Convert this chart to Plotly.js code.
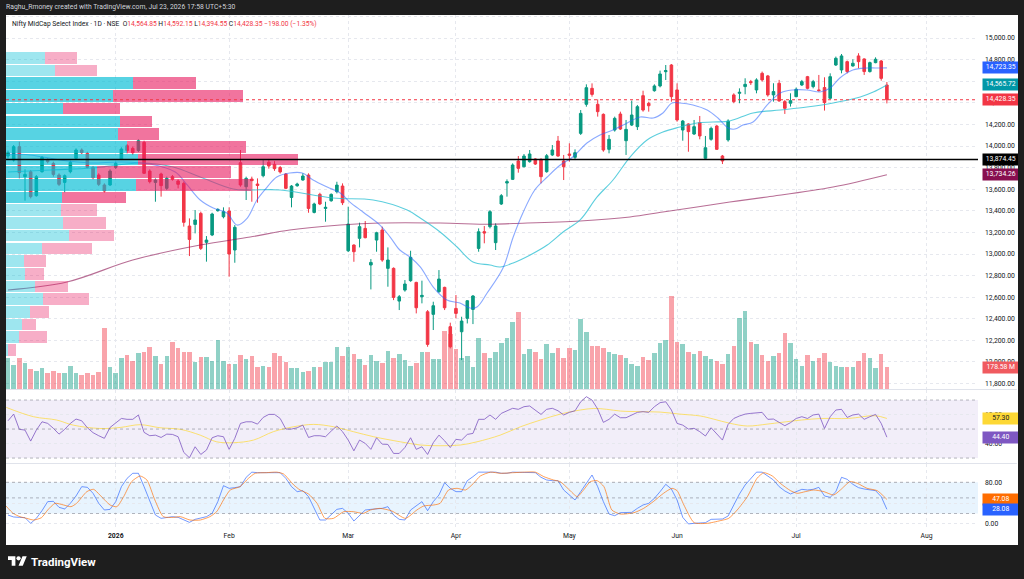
<!DOCTYPE html>
<html>
<head>
<meta charset="utf-8">
<script src="https://cdn.plot.ly/plotly-3.0.1.min.js"></script>
<style>
  html, body { margin: 0; padding: 0; }
  body { width: 1024px; height: 579px; background: #1e1e1e; position: relative; overflow: hidden; font-family: Roboto, "Liberation Sans", sans-serif; }
  #credit { position: absolute; left: 6px; top: 2px; font-size: 6.8px; color: #d1d4dc; line-height: 10px; }
  #chart { position: absolute; left: 6px; top: 15px; width: 1012px; height: 530px; background: #fff; }
  #brand { position: absolute; left: 8px; top: 554px; height: 15px; display: flex; align-items: center; color: #fff; font-weight: 700; font-size: 11.5px; }
  #brand svg { margin-right: 4px; }
</style>
</head>
<body>
<div id="credit">Raghu_Rmoney created with TradingView.com, Jul 23, 2026 17:58 UTC+5:30</div>
<div id="chart"></div>
<div id="brand">
  <svg width="19" height="15" viewBox="0 0 36 28"><path d="M14 22H7V11H0V4h14v18zM28 22h-8l7.5-18h8L28 22z" fill="#fff"/><circle cx="20" cy="8" r="4" fill="#fff"/></svg>
  <span>TradingView</span>
</div>
<script>
// daily candles, Dec 2025 - Jul 23 2026 (bar 1 = first bar on screen)
var opens = [13907, 13870, 13994, 13716, 13762, 13540, 13762, 13870, 13839, 13731,
  13663, 13762, 13886, 13963, 13932, 13802, 13731, 13639, 13639, 13802,
  13876, 14003, 13978, 13957, 14034, 13768, 13663, 13741, 13608, 13716,
  13676, 13654, 13259, 13274, 13376, 13108, 13176, 13401, 13345, 13398,
  13037, 13845, 13623, 13694, 13648, 13725, 13850, 13830, 13800, 13740,
  13524, 13632, 13685, 13731, 13385, 13552, 13422, 13493, 13577, 13629,
  13030, 13083, 13145, 13237, 12898, 13129, 13222, 12867, 12867, 12564,
  12666, 12753, 12737, 12604, 12465, 12441, 12651, 12691, 12327, 12496,
  12280, 12404, 12487, 13052, 13207, 13253, 13105, 13463, 13657, 13691,
  13861, 13808, 13855, 13880, 13876, 13762, 13917, 14046, 13861, 13926,
  13895, 14117, 14386, 14534, 14386, 14293, 13969, 14148, 14296, 14049,
  14194, 14179, 14466, 14395, 14512, 14556, 14688, 14750, 14519, 14148,
  14204, 14111, 14216, 13886, 14062, 14185, 13907, 14056, 14473, 14488,
  14550, 14596, 14519, 14673, 14649, 14473, 14581, 14411, 14396, 14457,
  14565, 14642, 14550, 14519, 14541, 14442, 14750, 14704, 14781, 14741,
  14834, 14806, 14689, 14772, 14787, 14564.85];
var highs = [13957, 14009, 14040, 13784, 13778, 13731, 13907, 13886, 13855, 13747,
  13737, 13864, 13978, 13978, 13947, 13815, 13747, 13654, 13784, 13855,
  13988, 14018, 13994, 14062, 14049, 13784, 13700, 13753, 13716, 13731,
  13691, 13670, 13330, 13407, 13392, 13166, 13382, 13423, 13432, 13432,
  13268, 13963, 13716, 13716, 13700, 13870, 13880, 13860, 13815, 13750,
  13638, 13660, 13747, 13747, 13475, 13567, 13484, 13561, 13669, 13654,
  13438, 13089, 13290, 13305, 12953, 13206, 13253, 13061, 12876, 12620,
  12759, 13030, 12743, 12753, 12481, 12558, 12851, 12697, 12364, 12620,
  12419, 12573, 12620, 13237, 13259, 13407, 13284, 13555, 13691, 13839,
  13907, 13926, 13963, 13886, 13886, 13926, 14009, 14093, 13917, 14025,
  13969, 14333, 14571, 14580, 14432, 14302, 14102, 14272, 14318, 14241,
  14420, 14380, 14512, 14410, 14571, 14698, 14750, 14759, 14580, 14241,
  14210, 14241, 14278, 14093, 14179, 14194, 13917, 14247, 14488, 14534,
  14627, 14612, 14627, 14689, 14658, 14581, 14612, 14426, 14488, 14541,
  14612, 14649, 14612, 14658, 14636, 14673, 14828, 14852, 14791, 14803,
  14859, 14812, 14781, 14821, 14797, 14592.15];
var lows = [13883, 13855, 13700, 13494, 13515, 13531, 13753, 13839, 13716, 13629,
  13571, 13747, 13870, 13926, 13793, 13691, 13629, 13568, 13629, 13787,
  13870, 13932, 13916, 13944, 13741, 13654, 13484, 13531, 13592, 13679,
  13608, 13253, 12981, 13191, 13037, 12929, 13166, 13392, 13330, 12790,
  12919, 13623, 13500, 13484, 13475, 13710, 13790, 13770, 13745, 13600,
  13432, 13623, 13679, 13382, 13376, 13453, 13299, 13484, 13561, 13453,
  13018, 12928, 13061, 13145, 12672, 13021, 12928, 12697, 12573, 12481,
  12651, 12743, 12450, 12543, 12141, 12296, 12641, 12481, 12126, 12404,
  12018, 12357, 12351, 13021, 13099, 13237, 13037, 13454, 13531, 13685,
  13753, 13802, 13846, 13824, 13654, 13753, 13907, 13901, 13685, 13855,
  13870, 14102, 14364, 14457, 14272, 13947, 13932, 14133, 14148, 13917,
  14185, 14148, 14318, 14318, 14503, 14543, 14611, 14410, 14225, 14049,
  13947, 14102, 14062, 13876, 14049, 13963, 13833, 14040, 14396, 14396,
  14479, 14565, 14488, 14596, 14457, 14411, 14411, 14297, 14365, 14451,
  14556, 14525, 14534, 14504, 14328, 14433, 14741, 14673, 14673, 14735,
  14720, 14658, 14680, 14766, 14605, 14394.55];
var closes = [13938, 13994, 13753, 13737, 13531, 13716, 13895, 13855, 13737, 13645,
  13725, 13849, 13963, 13938, 13802, 13707, 13645, 13583, 13768, 13839,
  13972, 13957, 13938, 14049, 13747, 13670, 13685, 13633, 13700, 13691,
  13645, 13293, 13135, 13315, 13052, 13129, 13370, 13413, 13392, 13000,
  13247, 13639, 13700, 13679, 13635, 13808, 13815, 13790, 13760, 13608,
  13629, 13648, 13722, 13422, 13463, 13463, 13432, 13552, 13638, 13475,
  13277, 13021, 13253, 13151, 12922, 13197, 12944, 12944, 12598, 12604,
  12722, 12969, 12502, 12617, 12163, 12521, 12768, 12502, 12141, 12450,
  12379, 12567, 12611, 13206, 13194, 13392, 13259, 13540, 13670, 13824,
  13793, 13907, 13926, 13833, 13716, 13910, 13963, 13907, 13808, 13914,
  13938, 14302, 14540, 14478, 14318, 13963, 14062, 14256, 14157, 14154,
  14287, 14364, 14333, 14373, 14556, 14667, 14698, 14457, 14241, 14231,
  14133, 14179, 14093, 13984, 14163, 13969, 13861, 14231, 14411, 14497,
  14571, 14587, 14612, 14612, 14473, 14504, 14417, 14349, 14420, 14525,
  14596, 14534, 14596, 14513, 14402, 14642, 14812, 14834, 14689, 14766,
  14781, 14689, 14772, 14803, 14626.35, 14428.35];

// volume, millions
var volumes = [252, 197, 252, 211, 165, 151, 170, 134, 148, 129,
  129, 189, 132, 115, 132, 115, 140, 505, 181, 134,
  255, 277, 230, 294, 304, 346, 272, 206, 274, 390,
  335, 307, 304, 222, 266, 263, 233, 403, 230, 203,
  203, 280, 247, 274, 178, 189, 184, 296, 274, 222,
  173, 173, 143, 151, 181, 178, 222, 222, 346, 272,
  343, 285, 244, 200, 280, 233, 217, 313, 258, 291,
  239, 192, 217, 307, 302, 244, 247, 477, 450, 329,
  252, 272, 178, 422, 294, 252, 304, 376, 417, 554,
  634, 288, 326, 304, 247, 368, 294, 340, 255, 335,
  321, 573, 466, 354, 357, 335, 304, 288, 280, 255,
  206, 192, 266, 239, 299, 381, 403, 768, 384, 368,
  304, 285, 310, 274, 247, 230, 206, 285, 354, 582,
  639, 390, 368, 277, 233, 274, 294, 458, 379, 244,
  189, 277, 230, 255, 299, 219, 189, 178, 181, 181,
  233, 299, 252, 173, 285, 178.58];

// moving averages (bar position, price)
var ema20At = [1, 4.9, 10.2, 15.5, 20.8, 26.0, 30.5, 32.6, 34.9, 37.2, 39.6, 41.4, 43.2, 44.9, 46.7,
  48.4, 50.7, 52.9, 54.8, 57.3, 59.6, 61.3, 63.6, 66.6, 68.4, 70.1, 71.9, 73.7, 76.0, 78.4,
  80.7, 82.5, 83.7, 85.5, 88.3, 90.1, 91.8, 93.9, 96.1, 98.4, 100.6, 103.1, 105.4, 107.7, 110.2,
  112.5, 114.8, 116.5, 118.1, 119.5, 121.8, 124.3, 126.2, 128.0, 129.2, 130.6, 132.4, 134.9, 137.2,
  139.4, 141.9, 144.2, 146.0, 147.7, 150.0, 152.5, 154.8, 156];
var ema20 = [13926, 13917, 13870, 13843, 13852, 13833, 13759, 13639, 13500, 13426, 13380, 13268, 13333, 13500, 13620,
  13713, 13750, 13750, 13685, 13620, 13565, 13481, 13389, 13268, 13157, 13037, 12972, 12880, 12694, 12574,
  12546, 12500, 12509, 12639, 12870, 13157, 13380, 13593, 13713, 13824, 13898, 14028, 14102, 14148, 14213,
  14269, 14259, 14306, 14398, 14398, 14380, 14333, 14259, 14167, 14157, 14194, 14222, 14380, 14491,
  14519, 14519, 14500, 14537, 14630, 14704, 14722, 14722, 14723.35];
var ema50At = [1, 8.4, 16.0, 24.3, 30.1, 34.9, 40.7, 43.7, 49.0, 58.3, 65.4, 71.4, 73.7, 77.2, 80.2,
  83.0, 86.0, 87.8, 90.1, 93.1, 96.1, 98.9, 101.9, 104.9, 107.7, 110.7, 113.7, 116.5, 119.5, 122.5,
  125.3, 128.3, 132.4, 137.2, 141.9, 146.5, 151.3, 153.6, 156];
var ema50 = [13759, 13778, 13796, 13843, 13806, 13713, 13602, 13593, 13593, 13518, 13500, 13407, 13333, 13204, 13065,
  12926, 12898, 12880, 12917, 12991, 13083, 13204, 13315, 13528, 13685, 13898, 14056, 14130, 14176, 14213,
  14222, 14232, 14306, 14333, 14361, 14398, 14454, 14500, 14565.72];
var sma200At = [1, 11.4, 23.0, 34.9, 43.7, 50.7, 59.6, 66.6, 77.2, 86.0, 90.1, 101.9, 110.7, 116.5, 122.5, 128.3, 134.9, 146.5, 156];
var sma200 = [12667, 12741, 12944, 13083, 13157, 13222, 13268, 13287, 13287, 13275, 13282, 13306, 13343, 13389, 13435, 13481, 13528, 13620, 13734.26];

// RSI (per bar) and its moving average
var rsi = [55.7, 60.3, 49.8, 49.3, 41.7, 49.3, 55.0, 53.9, 50.5, 46.5,
  49.8, 53.9, 56.9, 55.7, 50.9, 47.5, 45.4, 43.6, 51.1, 53.9,
  57.3, 56.7, 56.7, 59.7, 47.7, 45.4, 45.8, 44.2, 46.5, 46.3,
  44.7, 33.9, 30.2, 37.8, 32.5, 35.5, 44.0, 45.4, 44.7, 36.0,
  43.6, 53.9, 55.0, 55.0, 53.4, 58.0, 60.1, 60.1, 57.3, 50.0,
  50.0, 50.9, 52.7, 44.2, 45.4, 45.4, 44.7, 48.6, 52.1, 48.2,
  42.4, 35.0, 42.4, 40.1, 36.0, 44.0, 39.6, 39.4, 33.2, 33.2,
  37.3, 44.0, 36.0, 37.8, 32.5, 40.6, 45.8, 41.9, 37.3, 42.9,
  42.4, 46.3, 47.0, 56.7, 56.7, 59.7, 56.7, 60.8, 62.6, 64.3,
  63.6, 65.4, 65.9, 63.1, 60.1, 63.6, 64.3, 62.6, 59.7, 61.5,
  62.6, 68.8, 72.3, 70.0, 63.8, 54.6, 56.7, 60.3, 57.8, 57.8,
  59.7, 61.5, 62.0, 61.5, 65.4, 68.2, 68.8, 63.1, 53.9, 52.7,
  50.0, 50.5, 48.2, 45.2, 50.9, 46.3, 42.4, 53.2, 57.3, 59.0,
  60.3, 60.8, 61.3, 61.5, 56.7, 56.9, 54.6, 52.3, 54.4, 57.3,
  58.5, 57.3, 59.7, 60.3, 50.4, 58.5, 63.1, 63.6, 58.0, 59.7,
  60.3, 56.7, 58.5, 60.1, 53.9, 44.40];
var rsiMaAt = [0.7, 5.5, 9.6, 12.5, 17.2, 20.8, 24.3, 27.8, 31.4, 34.9, 37.8, 40.8, 44.3, 47.8, 51.4,
  54.9, 58.4, 61.9, 65.5, 70.2, 73.7, 77.2, 80.8, 83.7, 87.8, 91.4, 94.9, 98.4, 101.9, 104.3,
  106.6, 109, 112.5, 116, 119.5, 123.1, 125.4, 128.4, 131.4, 134.9, 137.4, 140.9, 144.5, 149.2, 153.9, 156];
var rsiMa = [64.9, 58.5, 56.2, 52.7, 50.4, 51.1, 53.0, 50.9, 49.8, 45.8, 41.2, 40.6, 42.4, 48.2, 51.6,
  53.2, 51.6, 48.2, 44.7, 41.2, 39.0, 38.5, 39.0, 41.2, 45.8, 51.6, 56.2, 60.3, 63.1, 64.2,
  63.6, 62.4, 62.0, 61.7, 60.3, 59.0, 56.9, 53.9, 52.1, 53.4, 54.6, 56.2, 57.3, 57.3, 59.2, 57.30];

// Stochastic %K (per bar) and %D
var stochK = [17.1, 13.3, 12.6, 12.0, 1.1, 10.7, 25.5, 42.8, 43.4, 31.9,
  28.7, 39.6, 53.7, 71.6, 70.3, 58.8, 39.6, 26.7, 28.0, 42.8,
  71.6, 87.6, 97.3, 97.3, 71.6, 42.8, 17.1, 10.7, 12.0, 13.9,
  12.6, 7.5, 3.0, 8.8, 10.7, 13.9, 20.3, 42.8, 73.5, 68.4,
  69.7, 71.6, 89.6, 99.5, 98.5, 98.5, 98.5, 99.5, 98.5, 87.6,
  71.6, 62.0, 63.9, 52.4, 29.9, 7.5, 7.5, 17.1, 28.0, 29.9,
  20.3, 5.6, 17.1, 26.7, 28.0, 28.7, 29.9, 33.1, 17.1, 8.8,
  7.5, 26.7, 34.4, 42.8, 25.5, 42.8, 55.6, 79.3, 68.4, 62.0,
  62.0, 83.1, 90.8, 99.5, 99.5, 99.5, 99.5, 97.3, 97.3, 99.5,
  99.5, 99.5, 99.5, 98.5, 89.6, 84.4, 83.1, 83.1, 65.2, 55.6,
  46.0, 62.0, 78.0, 94.0, 71.6, 42.8, 19.0, 15.8, 21.6, 22.2,
  22.2, 29.9, 36.4, 39.6, 49.2, 62.0, 76.1, 67.1, 46.0, 12.6,
  0.0, 1.1, 2.4, 2.4, 8.8, 9.4, 9.4, 15.2, 36.4, 57.5,
  74.8, 87.6, 99.5, 99.5, 91.1, 84.4, 71.6, 63.3, 57.5, 62.0,
  66.5, 65.2, 66.5, 70.3, 53.7, 51.1, 62.0, 89.6, 85.7, 76.1,
  69.7, 67.1, 65.2, 63.9, 52.4, 28.08];
var stochDAt = [0.65, 1.9, 3.1, 4.3, 5.5, 6.9, 8.0, 9.3, 10.8, 12.1, 13.1, 14.9, 16.1, 17.2, 19.0,
  20.2, 21.4, 22.8, 24.3, 25.5, 26.9, 28.4, 30.2, 31.4, 33.1, 34.9, 36.6, 37.8, 39.0, 40.2,
  41.9, 43.4, 44.6, 46.6, 48.4, 49.6, 51.4, 52.5, 54.0, 55.5, 56.9, 58.4, 60.2, 61.9, 63.7,
  64.9, 66.6, 68.7, 71.1, 73.1, 74.3, 76.1, 77.2, 78.7, 80.2, 81.7, 83.1, 84.3, 86.1, 87.8,
  90.2, 92.1, 94.0, 95.5, 97.2, 98.4, 99.9, 101.4, 102.5, 103.7, 104.9, 106.1, 107.5, 109.0, 111.4,
  113.1, 114.8, 116.6, 118.1, 119.0, 120.2, 122.0, 124.3, 126.6, 128.1, 129.6, 131.4, 133.1, 134.3, 135.8,
  137.2, 139.0, 140.2, 141.6, 143.1, 144.9, 146.6, 147.8, 149.5, 150.8, 152.5, 154.3, 156];
var stochD = [34.4, 20.3, 13.9, 10.7, 7.5, 12.0, 26.7, 39.6, 36.4, 33.1, 39.6, 62.0, 66.5, 55.6, 36.4,
  33.1, 52.4, 81.2, 92.1, 84.4, 46.0, 13.9, 12.6, 13.9, 7.5, 7.5, 13.9, 23.5, 46.0, 65.2,
  71.6, 87.6, 97.3, 98.5, 99.5, 96.0, 74.8, 65.2, 57.5, 39.6, 10.7, 10.7, 23.5, 23.5, 20.3,
  26.7, 29.9, 24.8, 10.7, 26.7, 34.4, 36.4, 39.6, 65.2, 68.4, 65.2, 78.0, 92.1, 99.5, 97.3,
  98.5, 99.5, 99.5, 90.8, 84.4, 81.2, 66.5, 52.4, 65.2, 81.2, 83.1, 71.6, 26.7, 19.0, 21.6,
  29.9, 42.8, 58.8, 68.4, 63.9, 36.4, 2.4, 1.1, 6.2, 10.7, 26.7, 52.4, 87.6, 98.5, 92.1,
  78.0, 63.9, 58.8, 62.0, 65.2, 62.0, 55.6, 65.2, 81.2, 78.0, 68.4, 63.9, 47.08];

// visible-range volume profile: row mid prices, up and down volume (relative units)
var profilePrices = [14816, 14699, 14581, 14463, 14346, 14228, 14111, 13993, 13875, 13758, 13640, 13523,
  13405, 13287, 13170, 13052, 12935, 12817, 12699, 12582, 12464, 12347, 12229, 12111];
var profileUp = [39, 49, 127, 107, 57, 114, 112, 121, 132, 91, 130, 56, 55, 57, 63, 36, 18, 19, 29, 37, 24, 16, 13, 2];
var profileDown = [32, 42, 63, 130, 57, 32, 41, 119, 160, 134, 115, 64, 36, 43, 45, 50, 22, 19, 33, 46, 19, 14, 28, 8];

var supportLevel = 13874.45;
var monthTicks = [20, 40, 61, 80, 100, 119, 140, 163];
var monthLabels = ['<b>2026</b>', 'Feb', 'Mar', 'Apr', 'May', 'Jun', 'Jul', 'Aug'];

var bars = closes.map(function (c, i) { return i + 1; });
var last = closes.length - 1;
var upColor = '#089981', downColor = '#f23645';
var volColors = closes.map(function (c, i) {
  return c >= opens[i] ? 'rgba(8,153,129,0.45)' : 'rgba(242,54,69,0.45)';
});
var vaUp = profileUp.map(function (v, i) { return (i >= 2 && i <= 11) ? 'rgba(0,188,212,0.66)' : 'rgba(0,188,212,0.38)'; });
var vaDown = profileDown.map(function (v, i) { return (i >= 2 && i <= 11) ? 'rgba(233,30,99,0.62)' : 'rgba(233,30,99,0.36)'; });

function fmt(v) { return v.toLocaleString('en-US', {minimumFractionDigits: 2, maximumFractionDigits: 2}); }

var data = [
  {type: 'bar', x: bars, y: volumes, xaxis: 'x', yaxis: 'y', width: 0.8,
   marker: {color: volColors, line: {width: 0}}},
  {type: 'candlestick', x: bars, open: opens, high: highs, low: lows, close: closes,
   xaxis: 'x', yaxis: 'y4', whiskerwidth: 0,
   increasing: {line: {color: upColor, width: 1}, fillcolor: upColor},
   decreasing: {line: {color: downColor, width: 1}, fillcolor: downColor}},
  {type: 'scatter', mode: 'lines', x: sma200At, y: sma200, xaxis: 'x', yaxis: 'y4',
   line: {color: 'rgba(136,14,79,0.6)', width: 1.1, shape: 'spline'}},
  {type: 'scatter', mode: 'lines', x: ema50At, y: ema50, xaxis: 'x', yaxis: 'y4',
   line: {color: 'rgba(38,190,210,0.75)', width: 1.1, shape: 'spline'}},
  {type: 'scatter', mode: 'lines', x: ema20At, y: ema20, xaxis: 'x', yaxis: 'y4',
   line: {color: 'rgba(41,98,255,0.55)', width: 1.1, shape: 'spline'}},
  {type: 'bar', orientation: 'h', y: profilePrices, x: profileUp, xaxis: 'x2', yaxis: 'y4', width: 108,
   marker: {color: vaUp, line: {width: 0}}},
  {type: 'bar', orientation: 'h', y: profilePrices, x: profileDown, xaxis: 'x2', yaxis: 'y4', width: 108,
   marker: {color: vaDown, line: {width: 0}}},
  {type: 'scatter', mode: 'lines', x: rsiMaAt, y: rsiMa, xaxis: 'x', yaxis: 'y2',
   line: {color: 'rgba(253,216,53,0.7)', width: 1, shape: 'spline'}},
  {type: 'scatter', mode: 'lines', x: bars, y: rsi, xaxis: 'x', yaxis: 'y2',
   line: {color: 'rgba(126,87,194,0.8)', width: 1}},
  {type: 'scatter', mode: 'lines', x: bars, y: stochK, xaxis: 'x', yaxis: 'y3',
   line: {color: 'rgba(41,98,255,0.65)', width: 1}},
  {type: 'scatter', mode: 'lines', x: stochDAt, y: stochD, xaxis: 'x', yaxis: 'y3',
   line: {color: 'rgba(255,109,0,0.65)', width: 1, shape: 'spline', smoothing: 0.6}}
];

var grid = '#e6e8ee';
var axisFont = {family: 'Roboto, sans-serif', size: 6.8, color: '#131722'};

function hline(yref, y, color, dash, width) {
  return {type: 'line', xref: 'paper', x0: 0, x1: 1, yref: yref, y0: y, y1: y,
          line: {color: color, dash: dash, width: width}};
}
function tag(yref, y, text, bg, fg) {
  return {xref: 'paper', x: 1.004, xanchor: 'left', yref: yref, y: y, yanchor: 'middle',
          text: text, showarrow: false, bgcolor: bg, borderpad: 1.3, width: 33, align: 'center',
          font: {family: 'Roboto, sans-serif', size: 6.8, color: fg}};
}

var prevClose = closes[last - 1];
var chg = closes[last] - prevClose;
var red = 'color:#f23645';
var titleText = 'Nifty MidCap Select Index · 1D · NSE  ' +
  'O<span style="' + red + '">' + fmt(opens[last]) + '</span> ' +
  'H<span style="' + red + '">' + fmt(highs[last]) + '</span> ' +
  'L<span style="' + red + '">' + fmt(lows[last]) + '</span> ' +
  'C<span style="' + red + '">' + fmt(closes[last]) + '</span> ' +
  '<span style="' + red + '">\u2212' + fmt(Math.abs(chg)) + ' (\u2212' + (Math.abs(chg) / prevClose * 100).toFixed(2) + '%)</span>';

var layout = {
  width: 1012, height: 530,
  margin: {l: 0, r: 40, t: 0, b: 15},
  paper_bgcolor: '#ffffff', plot_bgcolor: '#ffffff',
  showlegend: false, hovermode: false,
  barmode: 'stack', bargap: 0, boxgap: 0.35,
  font: axisFont,
  xaxis: {domain: [0, 1], range: [0.647, 172.07], anchor: 'y3',
          tickmode: 'array', tickvals: monthTicks, ticktext: monthLabels,
          showgrid: true, gridcolor: grid, griddash: 'dot', zeroline: false, showline: false,
          ticks: '', tickfont: axisFont, rangeslider: {visible: false}},
  xaxis2: {overlaying: 'x', range: [0, 972], visible: false, anchor: 'y4'},
  yaxis: {domain: [0.2738, 1], range: [0, 3078], visible: false, anchor: 'x'},
  yaxis4: {overlaying: 'y', side: 'right', anchor: 'x', range: [11750, 15213],
           tick0: 11800, dtick: 200, tickformat: ',.2f',
           showgrid: true, gridcolor: grid, griddash: 'dot', zeroline: false, showline: false,
           ticks: '', ticklabelstandoff: 6, tickfont: axisFont},
  yaxis2: {domain: [0.1301, 0.2718], side: 'right', anchor: 'x', range: [26.6, 76.9],
           tickvals: [40, 60], tickformat: '.2f',
           showgrid: true, gridcolor: grid, griddash: 'dot', zeroline: false, showline: false,
           ticks: '', ticklabelstandoff: 6, tickfont: axisFont},
  yaxis3: {domain: [0, 0.1282], side: 'right', anchor: 'x', range: [-11.7, 115.2],
           tickvals: [0, 40, 80], tickformat: '.2f',
           showgrid: true, gridcolor: grid, griddash: 'dot', zeroline: false, showline: false,
           ticks: '', ticklabelstandoff: 6, tickfont: axisFont},
  shapes: [
    {type: 'rect', xref: 'paper', x0: 0, x1: 1, yref: 'y2', y0: 30, y1: 70,
     fillcolor: 'rgba(126,87,194,0.1)', line: {width: 0}, layer: 'below'},
    hline('y2', 70, 'rgba(120,123,134,0.55)', '3px,3px', 1),
    hline('y2', 50, 'rgba(120,123,134,0.55)', '3px,3px', 1),
    hline('y2', 30, 'rgba(120,123,134,0.55)', '3px,3px', 1),
    {type: 'rect', xref: 'paper', x0: 0, x1: 1, yref: 'y3', y0: 20, y1: 80,
     fillcolor: 'rgba(33,150,243,0.1)', line: {width: 0}, layer: 'below'},
    hline('y3', 80, 'rgba(120,123,134,0.55)', '3px,3px', 1),
    hline('y3', 50, 'rgba(120,123,134,0.55)', '3px,3px', 1),
    hline('y3', 20, 'rgba(120,123,134,0.55)', '3px,3px', 1),
    hline('y4', closes[last], '#f23645', 'dot', 1),
    hline('y4', supportLevel, '#000000', 'solid', 1.5),
    {type: 'line', xref: 'paper', x0: 0, x1: 1.04, yref: 'paper', y0: 0.2728, y1: 0.2728,
     line: {color: '#e0e3eb', width: 1}},
    {type: 'line', xref: 'paper', x0: 0, x1: 1.04, yref: 'paper', y0: 0.1291, y1: 0.1291,
     line: {color: '#e0e3eb', width: 1}}
  ],
  annotations: [
    {xref: 'paper', x: 0.004, xanchor: 'left', yref: 'paper', y: 0.982, yanchor: 'middle',
     showarrow: false, text: titleText, align: 'left',
     font: {family: 'Roboto, sans-serif', size: 6.7, color: '#131722'}},
    tag('y4', ema20[ema20.length - 1], fmt(ema20[ema20.length - 1]), '#2962ff', '#ffffff'),
    tag('y4', ema50[ema50.length - 1], fmt(ema50[ema50.length - 1]), '#0097a7', '#ffffff'),
    tag('y4', closes[last], fmt(closes[last]), '#f23645', '#ffffff'),
    tag('y4', supportLevel, fmt(supportLevel), '#000000', '#ffffff'),
    tag('y4', sma200[sma200.length - 1], fmt(sma200[sma200.length - 1]), '#880e4f', '#ffffff'),
    tag('y', volumes[last], volumes[last].toFixed(2) + ' M', '#f05a5f', '#ffffff'),
    tag('y2', rsiMa[rsiMa.length - 1], rsiMa[rsiMa.length - 1].toFixed(2), '#fdd835', '#131722'),
    tag('y2', rsi[last], rsi[last].toFixed(2), '#7e57c2', '#ffffff'),
    tag('y3', stochD[stochD.length - 1], stochD[stochD.length - 1].toFixed(2), '#ff6d00', '#ffffff'),
    tag('y3', stochK[last], stochK[last].toFixed(2), '#2962ff', '#ffffff')
  ]
};

Plotly.newPlot('chart', data, layout, {displayModeBar: false, staticPlot: true});
</script>
</body>
</html>
